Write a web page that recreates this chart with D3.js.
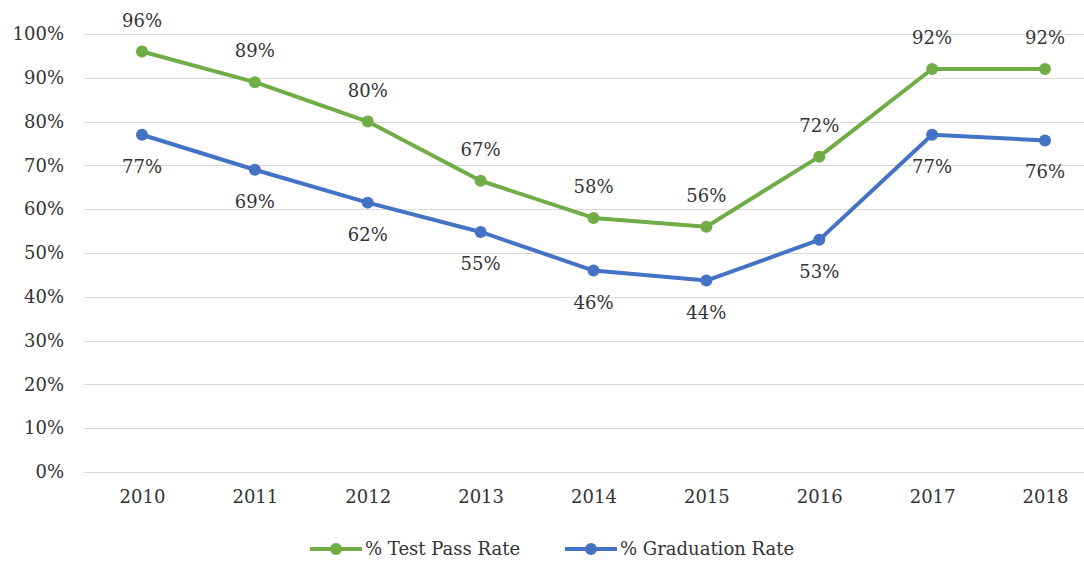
<!DOCTYPE html>
<html>
<head>
<meta charset="utf-8">
<script src="https://cdn.jsdelivr.net/npm/d3@7"></script>
<style>
  body { margin: 0; background: #fff; }
  svg { display: block; }
  text { font-family: "DejaVu Serif", serif; fill: #333333; }
</style>
</head>
<body>
<svg id="chart" width="1084" height="564"></svg>
<script>
const years = ["2010","2011","2012","2013","2014","2015","2016","2017","2018"];
const testPass = [0.96, 0.89, 0.80, 0.665, 0.58, 0.56, 0.72, 0.92, 0.92];
const graduation = [0.77, 0.69, 0.615, 0.548, 0.46, 0.437, 0.53, 0.77, 0.757];
const passLabels = ["96%","89%","80%","67%","58%","56%","72%","92%","92%"];
const gradLabels = ["77%","69%","62%","55%","46%","44%","53%","77%","76%"];
const yTicks = [0,0.1,0.2,0.3,0.4,0.5,0.6,0.7,0.8,0.9,1.0];
const seriesNames = ["% Test Pass Rate", "% Graduation Rate"];
const colors = ["#70AD47", "#4472C4"];

const svg = d3.select("#chart");
const x = d3.scalePoint().domain(years).range([142, 1045]);
const y = d3.scaleLinear().domain([0, 1]).range([472, 34]);
const FS = 18;

// gridlines
svg.append("g").selectAll("line").data(yTicks).join("line")
  .attr("x1", 84).attr("x2", 1084)
  .attr("y1", d => Math.round(y(d)) + 0.5).attr("y2", d => Math.round(y(d)) + 0.5)
  .attr("stroke", "#d9d9d9").attr("stroke-width", 1.2);

// y axis labels
const yAxis = d3.axisLeft(y).tickValues(yTicks).tickFormat(d3.format(".0%")).tickSize(0).tickPadding(0);
const gy = svg.append("g").attr("transform", "translate(64,0)").call(yAxis);
gy.select(".domain").remove();
gy.selectAll("text").attr("font-size", FS).attr("font-family", "DejaVu Serif").attr("fill", "#333333");

// x axis labels
const xAxis = d3.axisBottom(x).tickSize(0).tickPadding(0);
const gx = svg.append("g").attr("transform", "translate(0,490)").call(xAxis);
gx.select(".domain").remove();
gx.selectAll("text").attr("font-size", FS).attr("font-family", "DejaVu Serif").attr("fill", "#333333");

const line = d3.line().x((d, i) => x(years[i])).y(d => y(d));

const series = [
  {vals: testPass, labels: passLabels, color: colors[0], dy: -25},
  {vals: graduation, labels: gradLabels, color: colors[1], dy: 38}
];

series.forEach(s => {
  svg.append("path").datum(s.vals)
    .attr("d", line).attr("fill", "none")
    .attr("stroke", s.color).attr("stroke-width", 4)
    .attr("stroke-linejoin", "round");
  svg.append("g").selectAll("circle").data(s.vals).join("circle")
    .attr("cx", (d, i) => x(years[i])).attr("cy", d => y(d))
    .attr("r", 6).attr("fill", s.color);
  svg.append("g").selectAll("text").data(s.vals).join("text")
    .attr("x", (d, i) => x(years[i])).attr("y", d => y(d) + s.dy)
    .attr("text-anchor", "middle").attr("font-size", FS)
    .text((d, i) => s.labels[i]);
});

// legend
const legendX = [310, 565];
seriesNames.forEach((name, i) => {
  const g = svg.append("g").attr("transform", `translate(${legendX[i]},549)`);
  g.append("line").attr("x1", 0).attr("x2", 52).attr("y1", 0).attr("y2", 0)
    .attr("stroke", colors[i]).attr("stroke-width", 4);
  g.append("circle").attr("cx", 26).attr("cy", 0).attr("r", 6).attr("fill", colors[i]);
  g.append("text").attr("x", 55).attr("y", 6).attr("font-size", FS).text(name);
});
</script>
</body>
</html>
